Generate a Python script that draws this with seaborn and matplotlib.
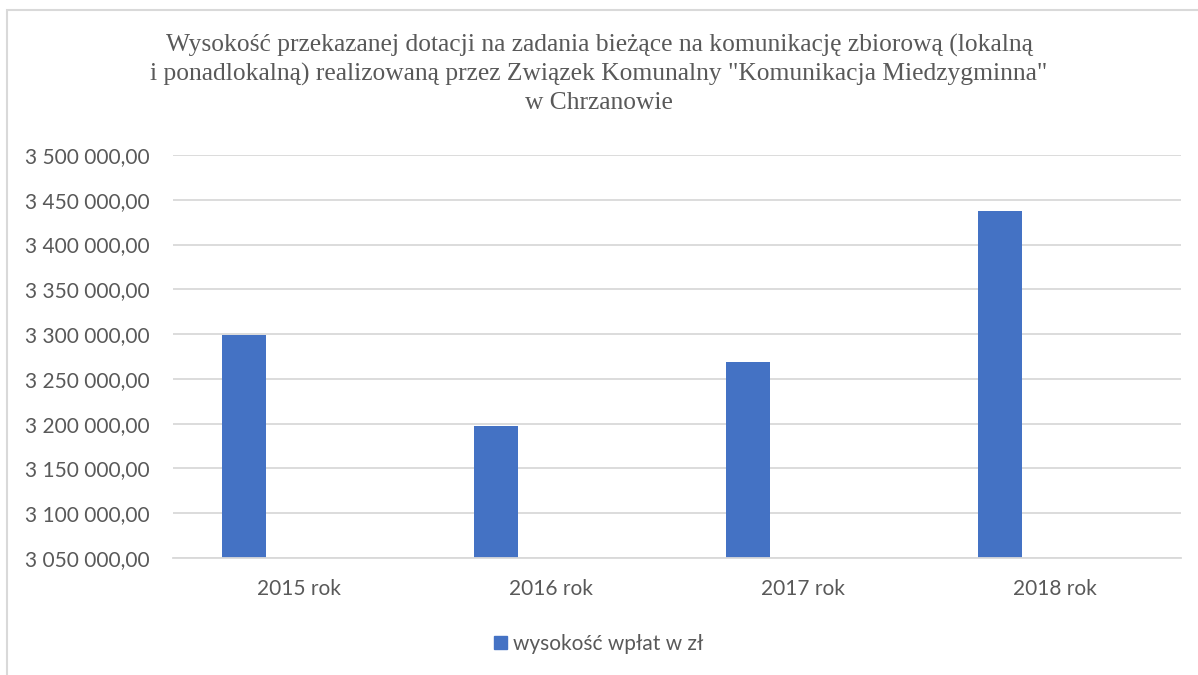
import numpy as np
import pandas as pd
import matplotlib.pyplot as plt
import matplotlib.ticker as mticker
from matplotlib.patches import Rectangle, Patch
import seaborn as sns

# ---------- Data ----------
years = ["2015 rok", "2016 rok", "2017 rok", "2018 rok"]
payments = [3298500, 3197800, 3269000, 3437300]
series_name = "wysokość wpłat w zł"

title = ("Wysokość przekazanej dotacji na zadania bieżące na komunikację zbiorową (lokalną\n"
         "i ponadlokalną) realizowaną przez Związek Komunalny \"Komunikacja Miedzygminna\"\n"
         "w Chrzanowie")

# second (empty) series keeps the bars left of the category centre, as in the original
df = pd.DataFrame({
    "rok": years * 2,
    "wartosc": payments + [np.nan] * len(years),
    "seria": [series_name] * len(years) + ["_empty"] * len(years),
})

# ---------- Style ----------
sns.set_theme(style="white")
plt.rcParams["font.family"] = ["Lato", "DejaVu Sans"]
grey = "#595959"
blue = "#4472C4"

fig = plt.figure(figsize=(11.98, 6.75), dpi=100)
ax = fig.add_axes([173 / 1198, 1 - 558 / 675, (1181 - 173) / 1198, (558 - 155) / 675])

sns.barplot(data=df, x="rok", y="wartosc", hue="seria",
            palette={series_name: blue, "_empty": blue},
            width=0.868, gap=0.6, dodge=True, legend=False, ax=ax,
            saturation=1, linewidth=0)

ax.set_ylim(3050000, 3500000)
ax.set_xlim(-0.5, 3.5)
ax.yaxis.set_major_locator(mticker.MultipleLocator(50000))
ax.yaxis.set_major_formatter(mticker.FuncFormatter(
    lambda v, p: f"{v:,.2f}".replace(",", " ").replace(".", ",")))
ax.grid(axis="y", color="#d9d9d9", linewidth=1.3)
ax.set_axisbelow(True)
for s in ["top", "right", "left"]:
    ax.spines[s].set_visible(False)
ax.spines["bottom"].set_color("#d9d9d9")
ax.spines["bottom"].set_linewidth(1.3)
ax.tick_params(axis="both", length=0, labelsize=15, colors=grey)
ax.tick_params(axis="x", pad=15)
ax.tick_params(axis="y", pad=17)
ax.set_xlabel("")
ax.set_ylabel("")

fig.text(0.5, 1 - 74 / 675, title, ha="center", va="center", fontsize=18.4,
         family=["Liberation Serif", "DejaVu Serif"], color=grey, linespacing=1.32)

ax.legend(handles=[Patch(color=blue, label=series_name)], loc="center",
          bbox_to_anchor=(0.5, 1 - 644 / 675), bbox_transform=fig.transFigure,
          frameon=False, fontsize=15, labelcolor=grey,
          handlelength=0.6, handleheight=0.6, handletextpad=0.3)

# chart frame
fig.patches.append(Rectangle((7 / 1198, -0.05), 1.2, 1 - 9.5 / 675 + 0.05,
                             transform=fig.transFigure, fill=False,
                             edgecolor="#d9d9d9", linewidth=1.5))

fig.savefig("out.png", dpi=100)
